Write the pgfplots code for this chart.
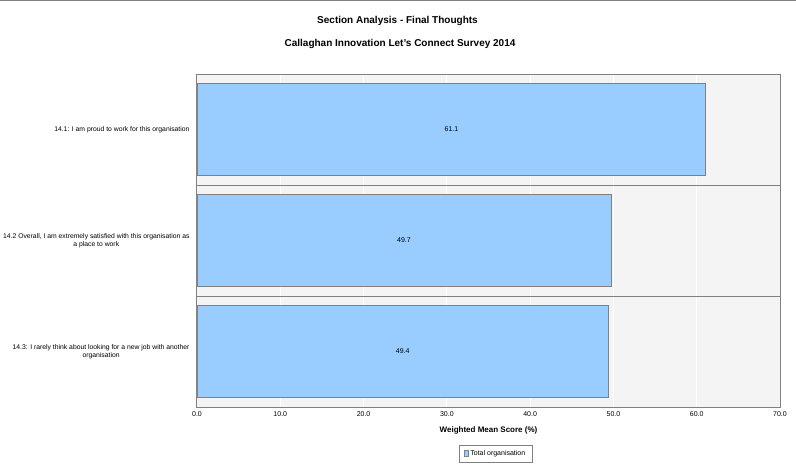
\documentclass[border=0pt]{standalone}
\usepackage{fontspec}
\setmainfont{Liberation Sans}
\usepackage{pgfplots}
\pgfplotsset{compat=1.18}
\definecolor{barblue}{HTML}{99CCFF}
\definecolor{bgc}{HTML}{F4F4F4}
\definecolor{edge}{HTML}{808080}
\begin{document}
\begin{tikzpicture}
\path[use as bounding box] (0pt,0pt) rectangle (796pt,-465pt);
\draw[edge, line width=1pt] (0pt,-0.5pt) -- (796pt,-0.5pt);
\node[font=\bfseries\fontsize{10}{12}\selectfont] at (397.5pt,-20.5pt) {Section Analysis - Final Thoughts};
\node[font=\bfseries\fontsize{10}{12}\selectfont] at (400pt,-44pt) {Callaghan Innovation Let's Connect Survey 2014};
\begin{axis}[
  at={(197pt,-74pt)}, anchor=north west,
  width=583pt, height=333pt, scale only axis,
  xmin=0, xmax=70, ymin=-0.5, ymax=2.5, y dir=reverse,
  xtick={0,10,...,70},
  xticklabel={\pgfmathprintnumber[fixed,fixed zerofill,precision=1]{\tick}},
  /pgf/number format/assume math mode=true,
  xticklabel style={font=\fontsize{7}{8}\selectfont, yshift=-1pt},
  ytick={0,1,2},
  yticklabels={{14.1: I am proud to work for this organisation},
    {14.2 Overall, I am extremely satisfied with this organisation as\\a place to work},
    {14.3: I rarely think about looking for a new job with another\\organisation}},
  yticklabel style={font=\fontsize{6.8}{8.3}\selectfont, align=center, xshift=-4pt},
  minor ytick={0.5,1.5},
  yminorgrids, xmajorgrids,
  major grid style={white, line width=1pt},
  minor grid style={edge, line width=0.8pt},
  axis background/.style={fill=bgc},
  axis line style={edge, line width=1pt},
  tick style={draw=none},
  xlabel={Weighted Mean Score (\%)},
  xlabel style={font=\bfseries\fontsize{8}{10}\selectfont, yshift=-3pt},
  legend style={at={(0.5125,-0.114)}, anchor=north, draw=edge, line width=0.8pt,
    font=\fontsize{7}{8}\selectfont, inner xsep=5pt, inner ysep=3pt},
  legend image code/.code={\draw[fill=barblue, draw=edge, line width=0.6pt] (0pt,-2.5pt) rectangle (3.5pt,3pt);},
]
\addplot[xbar, bar width=0.83, fill=barblue, draw=edge, line width=0.8pt]
  coordinates {(61.1,0) (49.7,1) (49.4,2)};
\addlegendentry{Total organisation}
\addplot[forget plot, only marks, mark=none, nodes near coords, point meta=explicit symbolic,
  nodes near coords style={anchor=center, font=\fontsize{7}{8}\selectfont}]
  coordinates {(30.55,0) [61.1] (24.85,1) [49.7] (24.7,2) [49.4]};
\end{axis}
\end{tikzpicture}
\end{document}
